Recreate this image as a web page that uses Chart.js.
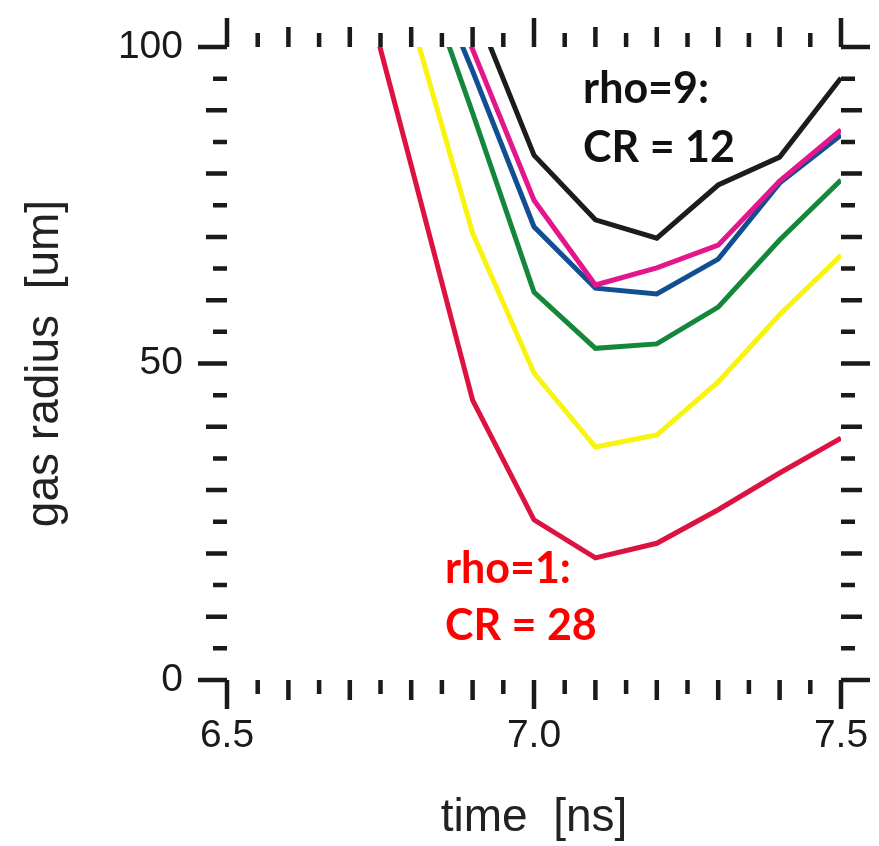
<!DOCTYPE html>
<html>
<head>
<meta charset="utf-8">
<script src="https://cdn.jsdelivr.net/npm/chart.js@4/dist/chart.umd.min.js"></script>
<style>
  html, body { margin: 0; padding: 0; background: #fff; }
  #wrap { width: 879px; height: 846px; position: relative; }
</style>
</head>
<body>
<div id="wrap"><canvas id="radiusChart"></canvas></div>
<script>
/* =========================
   Data
========================= */
const times = [6.7, 6.8, 6.9, 7.0, 7.1, 7.2, 7.3, 7.4, 7.5];

const rho1 = [118, 81.3, 44.2, 25.3, 19.3, 21.6, 26.9, 32.7, 38.2];
const rhoYellow = [null, 104.5, 70.6, 48.5, 36.8, 38.7, 47.1, 57.7, 67.1];
const rhoGreen = [null, 117, 89.6, 61.3, 52.4, 53.1, 58.9, 69.5, 79.0];
const rhoBlue = [null, 119.7, 96.2, 71.6, 61.9, 61.0, 66.5, 78.5, 86.1];
const rhoMagenta = [null, 122, 99.6, 75.8, 62.4, 65.1, 68.7, 78.8, 86.9];
const rho9 = [null, null, 107, 82.9, 72.7, 69.8, 78.2, 82.6, 95.1];

const xTickLabels = [6.5, 7.0, 7.5];
const yTickLabels = [0, 50, 100];

const notes = [
  { text: "rho=9:", x: 7.08, y: 91.2, color: "#111" },
  { text: "CR = 12", x: 7.08, y: 81.8, color: "#111" },
  { text: "rho=1:", x: 6.855, y: 15.3, color: "#ff0000" },
  { text: "CR = 28", x: 6.855, y: 6.3, color: "#ff0000" },
];

/* =========================
   helpers
========================= */
const INK = "#1a1a1a";
const AXIS_FONT = "'Liberation Sans', Arial, sans-serif";

function toPoints(vals) {
  return times.map((t, i) => ({ x: t, y: vals[i] }));
}

function series(label, vals, color) {
  return {
    label,
    data: toPoints(vals),
    borderColor: color,
    backgroundColor: color,
    borderWidth: 5,
    pointRadius: 0,
    tension: 0,
    spanGaps: false,
  };
}

const isMult = (v, step) => Math.abs(v / step - Math.round(v / step)) < 1e-6;

// outward tick marks on all four sides, no frame line
const frameTicks = {
  id: "frameTicks",
  afterDraw(chart) {
    const { ctx, chartArea: a, scales: { x, y } } = chart;
    ctx.save();
    ctx.strokeStyle = INK;
    ctx.lineWidth = 4.5;
    ctx.lineCap = "butt";

    x.ticks.forEach(t => {
      const v = t.value;
      const len = isMult(v, 0.5) ? 29 : isMult(v, 0.1) ? 20 : 14;
      const px = x.getPixelForValue(v);
      ctx.beginPath();
      ctx.moveTo(px, a.bottom); ctx.lineTo(px, a.bottom + len);
      ctx.moveTo(px, a.top); ctx.lineTo(px, a.top - len);
      ctx.stroke();
    });

    y.ticks.forEach(t => {
      const v = t.value;
      const len = isMult(v, 50) ? 29 : isMult(v, 10) ? 21 : 14;
      const py = y.getPixelForValue(v);
      ctx.beginPath();
      ctx.moveTo(a.left, py); ctx.lineTo(a.left - len, py);
      ctx.moveTo(a.right, py); ctx.lineTo(a.right + len, py);
      ctx.stroke();
    });
    ctx.restore();
  },
};

// text labels inside the plot
const noteLabels = {
  id: "noteLabels",
  afterDatasetsDraw(chart) {
    const { ctx, scales: { x, y } } = chart;
    ctx.save();
    ctx.font = "bold 43px Lato, 'Open Sans', sans-serif";
    ctx.textAlign = "left";
    ctx.textBaseline = "alphabetic";
    notes.forEach(n => {
      ctx.fillStyle = n.color;
      ctx.fillText(n.text, x.getPixelForValue(n.x), y.getPixelForValue(n.y));
    });
    ctx.restore();
  },
};

/* =========================
   Chart
========================= */
new Chart(document.getElementById("radiusChart"), {
  type: "line",
  data: {
    datasets: [
      series("rho=1", rho1, "#dc1240"),
      series("yellow", rhoYellow, "#f8f40e"),
      series("green", rhoGreen, "#15873a"),
      series("magenta", rhoMagenta, "#e3168c"),
      series("blue", rhoBlue, "#124f92"),
      series("rho=9", rho9, "#1c1c1c"),
    ],
  },
  options: {
    responsive: true,
    maintainAspectRatio: false,
    animation: false,
    layout: { padding: { top: 47, right: 38, left: 0, bottom: 0 } },
    plugins: {
      legend: { display: false },
      tooltip: { enabled: false },
    },
    scales: {
      x: {
        type: "linear",
        min: 6.5,
        max: 7.5,
        grid: { display: false, drawTicks: false },
        border: { display: false },
        afterFit: s => {
          s.height = 166;
          s.paddingLeft = 0;
          s.paddingRight = 0;
        },
        ticks: {
          stepSize: 0.05,
          autoSkip: false,
          maxRotation: 0,
          padding: 33,
          color: INK,
          font: { family: AXIS_FONT, size: 39 },
          callback: v => (xTickLabels.some(l => Math.abs(l - v) < 1e-6) ? Number(v).toFixed(1) : ""),
        },
        title: {
          display: true,
          text: "time  [ns]",
          color: "#222",
          font: { family: AXIS_FONT, size: 46 },
          padding: { top: 0, bottom: 0 },
        },
      },
      y: {
        min: 0,
        max: 100,
        grid: { display: false, drawTicks: false },
        border: { display: false },
        afterFit: s => {
          s.width = 227;
          s.paddingTop = 0;
          s.paddingBottom = 0;
        },
        ticks: {
          stepSize: 5,
          autoSkip: false,
          padding: 44,
          color: INK,
          font: { family: AXIS_FONT, size: 39 },
          callback: v => (yTickLabels.includes(v) ? String(v) : ""),
        },
        title: {
          display: true,
          text: "gas radius  [um]",
          color: "#222",
          font: { family: AXIS_FONT, size: 46 },
          padding: { top: 18, bottom: 0 },
        },
      },
    },
  },
  plugins: [frameTicks, noteLabels],
});
</script>
</body>
</html>
